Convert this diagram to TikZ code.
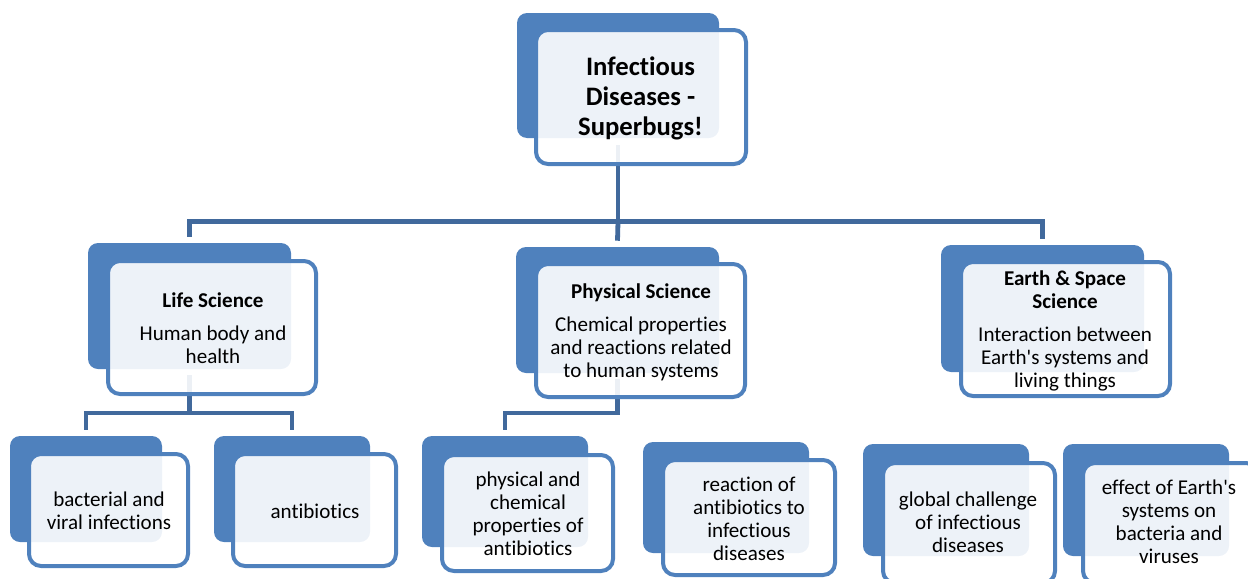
\documentclass[tikz,border=0pt]{standalone}
\usepackage{fontspec}
\setmainfont{Carlito}[Ligatures=NoCommon,RawFeature=-liga]
\usetikzlibrary{fit,calc}
\definecolor{boxblue}{HTML}{4F81BD}
\definecolor{connblue}{HTML}{41699C}
\newcommand{\apos}{\textquotesingle}
\begin{document}
\begin{tikzpicture}[x=0.75pt,y=-0.75pt,
  backbox/.style={fill=boxblue,draw=none,rounded corners=7.5pt,inner sep=0pt},
  frontbox/.style={fill=white,fill opacity=0.9,draw=boxblue,line width=3pt,rounded corners=9pt,inner sep=0pt},
  conn/.style={draw=connblue,line width=3.6pt},
  txt/.style={align=center,font=\fontsize{15.8}{17.25}\selectfont,text=black,inner sep=0pt},
  ttl/.style={align=center,font=\fontsize{20}{22.5}\selectfont\bfseries,text=black,inner sep=0pt}]
\useasboundingbox (0,0) rectangle (1248,578);
\clip (0,0) rectangle (1248,578);
% back boxes
\node[backbox,fit={(517,13) (719,138)}] (tB) {};
\node[backbox,fit={(88,243) (291,369)}] (lsB) {};
\node[backbox,fit={(516,247) (719,373)}] (psB) {};
\node[backbox,fit={(941,245) (1144,372)}] (esB) {};
\node[backbox,fit={(10,436) (162,542)}] (c1B) {};
\node[backbox,fit={(214,436) (370,542)}] (c2B) {};
\node[backbox,fit={(422,436) (588,547)}] (c3B) {};
\node[backbox,fit={(643,442) (809,553)}] (c4B) {};
\node[backbox,fit={(863,444) (1029,556)}] (c5B) {};
\node[backbox,fit={(1063,444) (1229,556)}] (c6B) {};
% connectors
\coordinate (bus0) at (0,221.5);
\coordinate (bus1) at (0,413);
\draw[conn] ($(tB.south)+(0,7)$) -- (tB.south |- bus0) -| ($(lsB.north)+(0,-6)$);
\draw[conn] (tB.south |- bus0) -| ($(esB.north)+(0,-6)$);
\draw[conn] (tB.south |- bus0) -- ($(psB.north)+(0,-6)$);
\draw[conn] ($(lsB.south)+(0,6)$) -- (lsB.south |- bus1) -| ($(c1B.north)+(0,-6)$);
\draw[conn] (lsB.south |- bus1) -| ($(c2B.north)+(0,-6)$);
\draw[conn] ($(psB.south)+(0,6)$) -- (psB.south |- bus1) -| ($(c3B.north)+(0,-6)$);
% front boxes
\node[frontbox,fit={(536,30) (746,164)}] (tF) {};
\node[frontbox,fit={(108,261) (316,394)}] (lsF) {};
\node[frontbox,fit={(536,264) (745,397)}] (psF) {};
\node[frontbox,fit={(961,262) (1170,396)}] (esF) {};
\node[frontbox,fit={(29,454) (188,566)}] (c1F) {};
\node[frontbox,fit={(233,454) (396,566)}] (c2F) {};
\node[frontbox,fit={(442,455) (613,571)}] (c3F) {};
\node[frontbox,fit={(663,460) (835,575)}] (c4F) {};
\node[frontbox,fit={(883,463) (1055,583)}] (c5F) {};
\node[frontbox,fit={(1083,463) (1258,583)}] (c6F) {};
% texts
\node[ttl] (tT) at (640.5,98) {Infectious\\Diseases -\\Superbugs!};
\node[txt] (lsT) at (213,328.5) {\textbf{Life Science}\\[7.5pt]Human body and\\health};
\node[txt] (psT) at (641,332.5) {\textbf{Physical Science}\\[7.5pt]Chemical properties\\and reactions related\\to human systems};
\node[txt] (esT) at (1065,331) {\textbf{Earth \& Space}\\\textbf{Science}\\[7.5pt]Interaction between\\Earth\apos s systems and\\living things};
\node[txt] (c1T) at (109,510.5) {bacterial and\\viral infections};
\node[txt] (c2T) at (315,511) {antibiotics};
\node[txt] (c3T) at (528,513.5) {physical and\\chemical\\properties of\\antibiotics};
\node[txt] (c4T) at (749,519) {reaction of\\antibiotics to\\infectious\\diseases};
\node[txt] (c5T) at (968,522) {global challenge\\of infectious\\diseases};
\node[txt] (c6T) at (1169,522) {effect of Earth\apos s\\systems on\\bacteria and\\viruses};
\end{tikzpicture}
\end{document}
